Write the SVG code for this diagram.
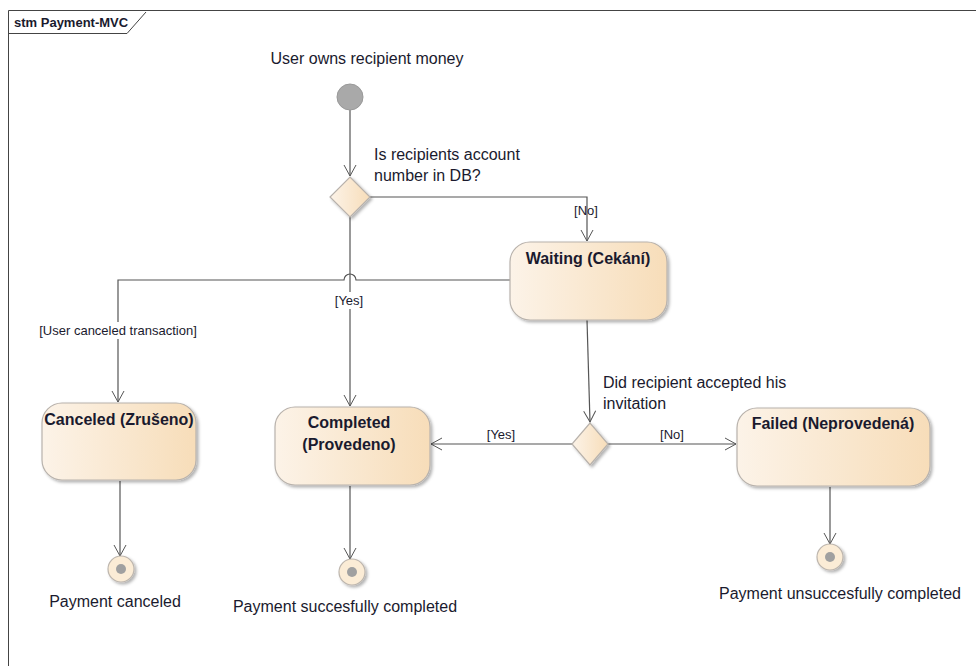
<svg xmlns="http://www.w3.org/2000/svg" width="976" height="668" viewBox="0 0 976 668">
<defs>
<linearGradient id="g" x1="0" y1="0" x2="1" y2="0">
<stop offset="0" stop-color="#fcf3e8"/>
<stop offset="1" stop-color="#f7ddb9"/>
</linearGradient>
<filter id="sh" x="-10%" y="-10%" width="130%" height="130%">
<feDropShadow dx="2" dy="2" stdDeviation="1.5" flood-color="#000" flood-opacity="0.3"/>
</filter>
<marker id="ar" markerWidth="14" markerHeight="14" refX="12" refY="7" orient="auto" markerUnits="userSpaceOnUse">
<path d="M1,1 L12,7 L1,13" fill="none" stroke="#555" stroke-width="1"/>
</marker>
</defs>
<style>
text{font-family:"Liberation Sans",Arial,sans-serif;fill:#1a1a2e}
.t{font-size:16px}
.b{font-size:16px;font-weight:bold}
.g{font-size:13px}
.st{fill:url(#g);stroke:#b8b2ac;stroke-width:1.2;filter:url(#sh)}
.c{fill:none;stroke:#555;stroke-width:1.2}
</style>
<rect x="0" y="0" width="976" height="668" fill="#fff"/>
<g id="frame">
<path d="M8.5,666 L8.5,10.5 L976,10.5" fill="none" stroke="#444" stroke-width="1"/>
<path d="M8.5,33.5 L127,33.5 L146,12" fill="none" stroke="#444" stroke-width="1"/>
<text x="14" y="27" style="font-size:13px;font-weight:bold">stm Payment-MVC</text>
</g>
<g id="connectors">
<path class="c" d="M350,110 L350,176" marker-end="url(#ar)"/>
<path class="c" d="M370,197 L587,197 L587,241" marker-end="url(#ar)"/>
<path class="c" d="M350,217 L350,406" marker-end="url(#ar)"/>
<path class="c" d="M510,280 L356,280 A6,6 0 0 0 344,280 L118,280 L118,402" marker-end="url(#ar)"/>
<path class="c" d="M587,320 L590,422" marker-end="url(#ar)"/>
<path class="c" d="M573,444 L431,444" marker-end="url(#ar)"/>
<path class="c" d="M608,444 L736,444" marker-end="url(#ar)"/>
<path class="c" d="M120,481 L120,556" marker-end="url(#ar)"/>
<path class="c" d="M350,486 L350,559" marker-end="url(#ar)"/>
<path class="c" d="M830,487 L830,544" marker-end="url(#ar)"/>
<rect x="336" y="292" width="28" height="17" fill="#fff"/>
<text class="g" x="349" y="305" text-anchor="middle">[Yes]</text>
<rect x="32" y="322" width="172" height="17" fill="#fff"/>
<text class="g" x="118" y="335" text-anchor="middle">[User canceled transaction]</text>
<text class="g" x="586" y="215" text-anchor="middle">[No]</text>
<text class="g" x="501" y="439" text-anchor="middle">[Yes]</text>
<text class="g" x="672" y="439" text-anchor="middle">[No]</text>
</g>
<g id="initial">
<circle cx="350" cy="97" r="13" fill="#a9a9a9" stroke="#999" stroke-width="1"/>
<text class="t" x="367" y="64" text-anchor="middle">User owns recipient money</text>
</g>
<g id="decision1">
<path d="M350,177 L370,197 L350,217 L330,197 Z" class="st"/>
<text class="t" x="374" y="160">Is recipients account</text>
<text class="t" x="374" y="181">number in DB?</text>
</g>
<g id="waiting">
<rect x="510" y="242" width="157" height="78" rx="20" class="st"/>
<text class="b" x="588" y="264" text-anchor="middle">Waiting (Cekání)</text>
</g>
<g id="canceled">
<rect x="42" y="403" width="154" height="77" rx="20" class="st"/>
<text class="b" x="119" y="425" text-anchor="middle">Canceled (Zrušeno)</text>
</g>
<g id="completed">
<rect x="275" y="407" width="155" height="78" rx="20" class="st"/>
<text class="b" x="349" y="428" text-anchor="middle">Completed</text>
<text class="b" x="349" y="450" text-anchor="middle">(Provedeno)</text>
</g>
<g id="decision2">
<path d="M590,423 L608,444 L590,465 L572,444 Z" class="st"/>
<text class="t" x="603" y="388">Did recipient accepted his</text>
<text class="t" x="603" y="409">invitation</text>
</g>
<g id="failed">
<rect x="737" y="408" width="193" height="78" rx="20" class="st"/>
<text class="b" x="833" y="429" text-anchor="middle">Failed (Neprovedená)</text>
</g>
<g id="final-canceled">
<circle cx="121" cy="569" r="13" fill="#fbecd6" stroke="#bdb6ae" stroke-width="1.2" filter="url(#sh)"/>
<circle cx="121" cy="569" r="5" fill="#a0a0a0"/>
<text class="t" x="115" y="607" text-anchor="middle">Payment canceled</text>
</g>
<g id="final-completed">
<circle cx="352" cy="572" r="13" fill="#fbecd6" stroke="#bdb6ae" stroke-width="1.2" filter="url(#sh)"/>
<circle cx="352" cy="572" r="5" fill="#a0a0a0"/>
<text class="t" x="345" y="612" text-anchor="middle">Payment succesfully completed</text>
</g>
<g id="final-failed">
<circle cx="830" cy="557" r="13" fill="#fbecd6" stroke="#bdb6ae" stroke-width="1.2" filter="url(#sh)"/>
<circle cx="830" cy="557" r="5" fill="#a0a0a0"/>
<text class="t" x="840" y="599" text-anchor="middle">Payment unsuccesfully completed</text>
</g>
</svg>
